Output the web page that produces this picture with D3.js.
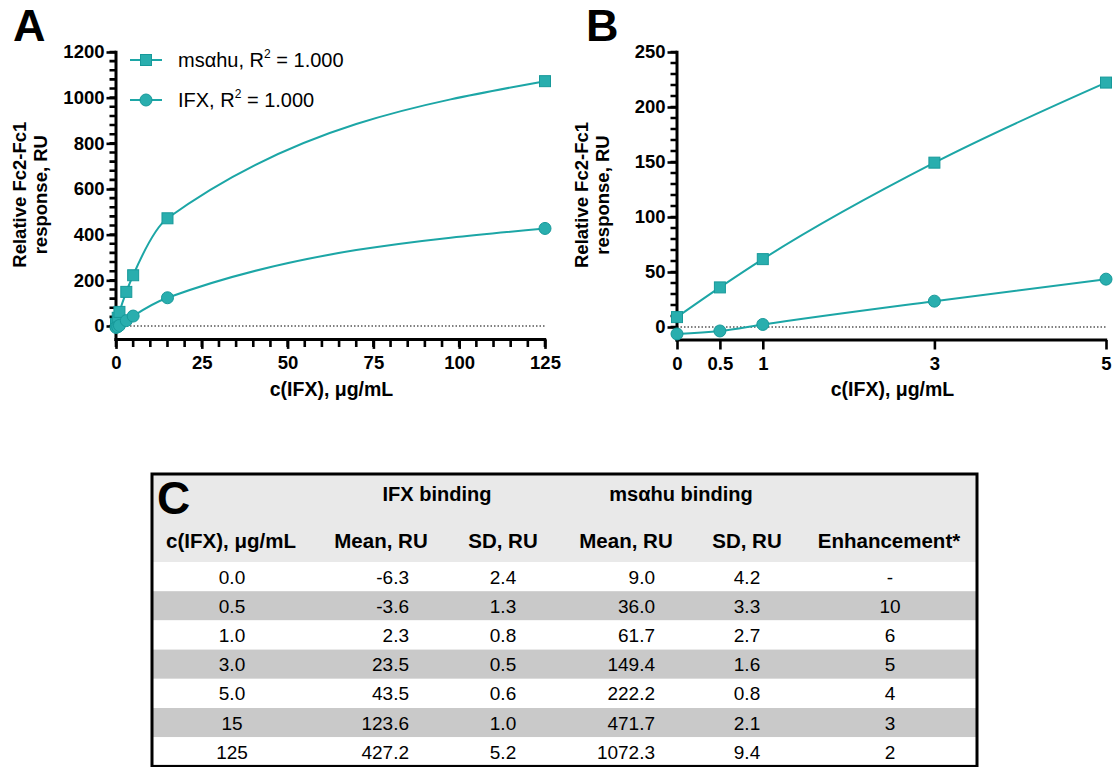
<!DOCTYPE html>
<html>
<head>
<meta charset="utf-8">
<script src="https://cdn.jsdelivr.net/npm/d3@7"></script>
<style>
  body { margin: 0; background: #fff; }
  svg text { font-family: 'Liberation Sans', Arial, sans-serif; }
</style>
</head>
<body>
<svg id="fig" width="1118" height="767"></svg>
<script>
let conc = [0, 0.5, 1, 3, 5, 15, 125]
let ifxMean = [-6.3, -3.6, 2.3, 23.5, 43.5, 123.6, 427.2]
let ifxSD = [2.4, 1.3, 0.8, 0.5, 0.6, 1.0, 5.2]
let msMean = [9.0, 36.0, 61.7, 149.4, 222.2, 471.7, 1072.3]
let msSD = [4.2, 3.3, 2.7, 1.6, 0.8, 2.1, 9.4]
let enhancement = ['-', '10', '6', '5', '4', '3', '2']

let ticksAx = [0, 25, 50, 75, 100, 125]
let ticksAy = [0, 200, 400, 600, 800, 1000, 1200]
let ticksBx = [0, 0.5, 1, 3, 5]
let ticksBy = [0, 50, 100, 150, 200, 250]

let teal = '#1ca6a6'
let markFill = '#29aeae'
let markStroke = '#17999a'

let svg = d3.select('#fig')

let panel = (opts) => {
	let g = svg.append('g')
	let x = d3.scaleLinear().domain(opts.xd).range(opts.xr)
	let y = d3.scaleLinear().domain(opts.yd).range(opts.yr)
	let axisY = opts.yr[0] + 2
	let x0 = opts.xr[0]

	// minor ticks as one path
	let mp = d3.path()
	opts.yMinor.forEach(v => { mp.moveTo(x0 - 6.5, y(v)); mp.lineTo(x0, y(v)) })
	opts.xMinor.forEach(v => { mp.moveTo(x(v), axisY); mp.lineTo(x(v), axisY + 7.5) })
	g.append('path').attr('d', mp.toString())
		.attr('fill', 'none').attr('stroke', '#000').attr('stroke-width', 2.6)

	// y axis
	let yb = g.append('g')
		.attr('transform', `translate(${x0},0)`)
		.call(d3.axisLeft(y).tickValues(opts.yt).tickSize(9.5).tickPadding(2).tickFormat(d => d))
	yb.select('.domain').remove()
	yb.selectAll('line').attr('stroke-width', 2.6)
	yb.selectAll('text').attr('font-size', 18.5).attr('font-weight', 'bold').attr('fill', '#000')
	g.append('line')
		.attr('x1', x0).attr('x2', x0)
		.attr('y1', y(opts.yd[1]) - 1.2).attr('y2', axisY + 1.5)
		.attr('stroke', '#000').attr('stroke-width', 3)

	// x axis
	let xa = g.append('g')
		.attr('transform', `translate(0,${axisY})`)
		.call(d3.axisBottom(x).tickValues(opts.xt).tickSize(9.5).tickPadding(7).tickFormat(d => d))
	xa.select('.domain').remove()
	xa.selectAll('line').attr('stroke-width', 2.6)
	xa.selectAll('text').attr('font-size', 18.5).attr('font-weight', 'bold').attr('fill', '#000')
	g.append('line')
		.attr('x1', x0 - 1.5).attr('x2', opts.xr[1] + 1.2)
		.attr('y1', axisY).attr('y2', axisY)
		.attr('stroke', '#000').attr('stroke-width', 3)

	// zero line
	g.append('line')
		.attr('x1', x0).attr('x2', opts.xr[1])
		.attr('y1', y(0)).attr('y2', y(0))
		.attr('stroke', '#000').attr('stroke-width', 1.2)
		.attr('stroke-dasharray', '1.5,2')

	// axis titles
	let cy = (opts.yr[0] + opts.yr[1]) / 2
	let yt = g.append('text')
		.attr('transform', `translate(${opts.titleX},${cy}) rotate(-90)`)
		.attr('text-anchor', 'middle')
		.attr('font-size', 18.5).attr('font-weight', 'bold')
	yt.append('tspan').attr('x', 0).attr('dy', 0).text('Relative Fc2-Fc1')
	yt.append('tspan').attr('x', 0).attr('dy', 21).text('response, RU')
	g.append('text')
		.attr('x', (opts.xr[0] + opts.xr[1]) / 2 + 1).attr('y', 396)
		.attr('text-anchor', 'middle')
		.attr('font-size', 19.5).attr('font-weight', 'bold')
		.text('c(IFX), μg/mL')

	g.append('text')
		.attr('x', opts.letterX).attr('y', 41)
		.attr('font-size', 45).attr('font-weight', 'bold')
		.text(opts.letter)

	// series
	let keep = conc.map((c, i) => i).filter(i => conc[i] <= opts.xd[1])
	let curve = d3.line().x(d => x(d[0])).y(d => y(d[1])).curve(d3.curveMonotoneX)
	let series = [
		{ vals: msMean, shape: 'square' },
		{ vals: ifxMean, shape: 'circle' },
	]
	series.forEach(s => {
		let pts = keep.map(i => [conc[i], s.vals[i]])
		g.append('path').attr('d', curve(pts))
			.attr('fill', 'none').attr('stroke', teal).attr('stroke-width', 2)
		pts.forEach(p => {
			if (s.shape === 'square') {
				g.append('rect')
					.attr('x', x(p[0]) - 5.5).attr('y', y(p[1]) - 5.5)
					.attr('width', 11).attr('height', 11)
					.attr('fill', markFill).attr('stroke', markStroke).attr('stroke-width', 1)
			} else {
				g.append('circle')
					.attr('cx', x(p[0])).attr('cy', y(p[1])).attr('r', 6)
					.attr('fill', markFill).attr('stroke', markStroke).attr('stroke-width', 1)
			}
		})
	})
	return g
}

panel({
	xd: [0, 125], xr: [116, 545],
	yd: [-50, 1200], yr: [337.4, 52],
	xt: ticksAx, xMinor: d3.range(0, 126, 5),
	yt: ticksAy, yMinor: d3.range(0, 1201, 40),
	titleX: 26, letter: 'A', letterX: 13,
})

panel({
	xd: [0, 5], xr: [677, 1106],
	yd: [-10, 250], yr: [338, 52],
	xt: ticksBx, xMinor: [],
	yt: ticksBy, yMinor: d3.range(0, 251, 10),
	titleX: 588, letter: 'B', letterX: 586,
})

// legend in panel A
let legend = [
	{ name: 'msαhu', shape: 'square', y: 60 },
	{ name: 'IFX', shape: 'circle', y: 100 },
]
legend.forEach(l => {
	svg.append('line').attr('x1', 130).attr('x2', 162).attr('y1', l.y).attr('y2', l.y)
		.attr('stroke', teal).attr('stroke-width', 2)
	if (l.shape === 'square') {
		svg.append('rect').attr('x', 146 - 5.5).attr('y', l.y - 5.5).attr('width', 11).attr('height', 11)
			.attr('fill', markFill).attr('stroke', markStroke)
	} else {
		svg.append('circle').attr('cx', 146).attr('cy', l.y).attr('r', 6)
			.attr('fill', markFill).attr('stroke', markStroke)
	}
	let t = svg.append('text').attr('x', 178).attr('y', l.y + 7).attr('font-size', 20)
	t.append('tspan').text(`${l.name}, R`)
	t.append('tspan').attr('font-size', 12).attr('dy', -9).text('2')
	t.append('tspan').attr('dy', 9).text(' = 1.000')
})

// table C
let tx = 152, ty = 474, tw = 825
let headH = 88, rowH = 29.2
let table = svg.append('g')
table.append('rect').attr('x', tx).attr('y', ty).attr('width', tw).attr('height', headH)
	.attr('fill', '#e9e9e9')
conc.forEach((c, i) => {
	table.append('rect').attr('x', tx).attr('y', ty + headH + i * rowH)
		.attr('width', tw).attr('height', rowH)
		.attr('fill', i % 2 === 1 ? '#c9c9c9' : '#fff')
})
table.append('rect').attr('x', tx).attr('y', ty).attr('width', tw).attr('height', headH + rowH * conc.length)
	.attr('fill', 'none').attr('stroke', '#000').attr('stroke-width', 3)

table.append('text').attr('x', 157).attr('y', 514).attr('font-size', 46).attr('font-weight', 'bold').text('C')

let groupHeads = [
	{ t: 'IFX binding', x: 437 },
	{ t: 'msαhu binding', x: 681 },
]
groupHeads.forEach(h => {
	table.append('text').attr('x', h.x).attr('y', 501).attr('text-anchor', 'middle')
		.attr('font-size', 20).attr('font-weight', 'bold').text(h.t)
})

let columns = [
	{ head: 'c(IFX), μg/mL', hx: 231, x: 232, anchor: 'middle', vals: conc.map(c => c < 10 ? c.toFixed(1) : String(c)) },
	{ head: 'Mean, RU', hx: 381, x: 409, anchor: 'end', vals: ifxMean.map(v => v.toFixed(1)) },
	{ head: 'SD, RU', hx: 503, x: 503, anchor: 'middle', vals: ifxSD.map(v => v.toFixed(1)) },
	{ head: 'Mean, RU', hx: 626, x: 655, anchor: 'end', vals: msMean.map(v => v.toFixed(1)) },
	{ head: 'SD, RU', hx: 747, x: 747, anchor: 'middle', vals: msSD.map(v => v.toFixed(1)) },
	{ head: 'Enhancement*', hx: 889, x: 890, anchor: 'middle', vals: enhancement },
]
columns.forEach(col => {
	table.append('text').attr('x', col.hx).attr('y', 548).attr('text-anchor', 'middle')
		.attr('font-size', 20.5).attr('font-weight', 'bold').text(col.head)
	col.vals.forEach((v, i) => {
		table.append('text').attr('x', col.x).attr('y', ty + headH + i * rowH + rowH / 2 + 7)
			.attr('text-anchor', col.anchor).attr('font-size', 19).text(v)
	})
})
</script>
</body>
</html>
